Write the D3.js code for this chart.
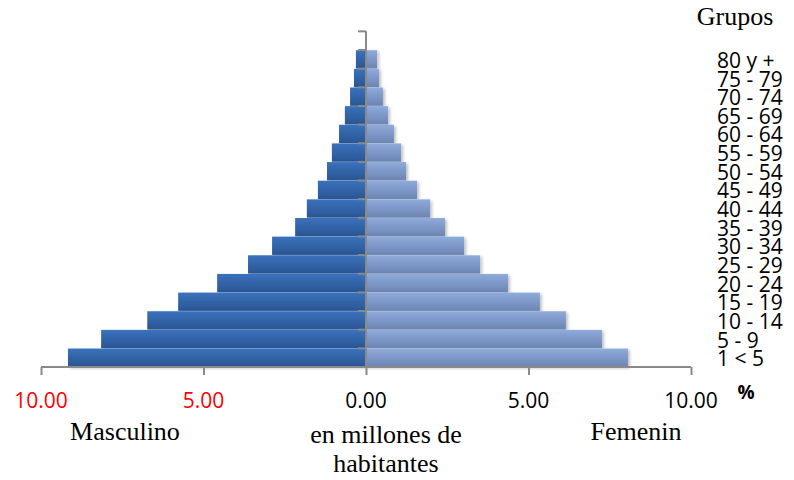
<!DOCTYPE html>
<html><head><meta charset="utf-8">
<script src="https://cdn.jsdelivr.net/npm/d3@7"></script>
<style>
html,body{margin:0;padding:0;background:#fff;}
svg{display:block;}
</style></head>
<body>
<svg id="chart" width="794" height="480"></svg>
<script>
const groups = ["1 < 5","5 - 9","10 - 14","15 - 19","20 - 24","25 - 29","30 - 34","35 - 39","40 - 44","45 - 49","50 - 54","55 - 59","60 - 64","65 - 69","70 - 74","75 - 79","80 y +"];
const masculino = [9.17,8.15,6.73,5.78,4.58,3.63,2.89,2.18,1.82,1.48,1.20,1.05,0.83,0.65,0.49,0.37,0.31];
const femenino  = [8.06,7.26,6.15,5.35,4.37,3.51,3.02,2.43,1.97,1.57,1.23,1.08,0.86,0.68,0.52,0.40,0.34];
const xTicks = [-10,-5,0,5,10];
const xTickLabels = ["10.00","5.00","0.00","5.00","10.00"];

const svg = d3.select("#chart");
const defs = svg.append("defs");
function grad(id, c1, c2){
  const g = defs.append("linearGradient").attr("id",id).attr("x1",0).attr("y1",0).attr("x2",0).attr("y2",1);
  g.append("stop").attr("offset","0%").attr("stop-color",c1);
  g.append("stop").attr("offset","100%").attr("stop-color",c2);
}
grad("gM","#3a72bd","#2a5592");
grad("gF","#8eabdc","#6c84b2");
const f = defs.append("filter").attr("id","sh").attr("x","-5%").attr("y","-20%").attr("width","120%").attr("height","160%");
f.append("feDropShadow").attr("dx",2).attr("dy",1.5).attr("stdDeviation",1.5).attr("flood-color","#000").attr("flood-opacity",0.25);

const x = d3.scaleLinear().domain([-10,10]).range([41,691]);
const yBottom = 367, yTop = 50;
const y = d3.scaleBand().domain(groups).range([yBottom, yTop]).paddingInner(0.02).paddingOuter(0.01);
const step = y.step();

// bars
const gb = svg.append("g").attr("filter","url(#sh)");
gb.selectAll("rect.m").data(groups).join("rect").attr("class","m")
  .attr("x",(d,i)=>x(-masculino[i])).attr("width",(d,i)=>x(0)-x(-masculino[i]))
  .attr("y",d=>y(d)).attr("height",y.bandwidth()).attr("fill","url(#gM)");
gb.selectAll("rect.f").data(groups).join("rect").attr("class","f")
  .attr("x",x(0)).attr("width",(d,i)=>x(femenino[i])-x(0))
  .attr("y",d=>y(d)).attr("height",y.bandwidth()).attr("fill","url(#gF)");

const axisColor = "#8a8a8a";
// horizontal axis
const xa = svg.append("g").attr("transform",`translate(0,${yBottom})`)
  .call(d3.axisBottom(x).tickValues(xTicks).tickSize(8).tickFormat(""));
xa.select(".domain").attr("stroke",axisColor).attr("stroke-width",2).attr("d",`M${x(-10)},0H${x(10)}`);
xa.selectAll(".tick line").attr("stroke",axisColor).attr("stroke-width",2);

// vertical axis (category ticks at band boundaries)
const axTop = yBottom - step*(groups.length+1);
const boundaries = d3.range(groups.length+2).map(i=>yBottom - i*step);
const va = svg.append("g");
va.append("line").attr("x1",x(0)).attr("x2",x(0)).attr("y1",axTop).attr("y2",yBottom)
  .attr("stroke",axisColor).attr("stroke-width",2);
va.selectAll("line.t").data(boundaries.slice(1)).join("line").attr("class","t")
  .attr("x1",x(0)-8).attr("x2",x(0)).attr("y1",d=>d).attr("y2",d=>d)
  .attr("stroke",axisColor).attr("stroke-width",2);

// tick labels
svg.append("g").selectAll("text").data(xTicks).join("text")
  .attr("x",d=>x(d)).attr("y",408).attr("text-anchor","middle")
  .attr("font-family","'Open Sans', sans-serif").attr("font-size",21)
  .attr("fill",d=>d<0?"#ff0000":"#000")
  .text((d,i)=>xTickLabels[i]);

svg.append("text").attr("x",746).attr("y",399).attr("text-anchor","middle")
  .attr("font-family","'Open Sans', sans-serif").attr("font-weight","bold").attr("font-size",19).text("%");

// group labels
svg.append("g").selectAll("text").data(groups).join("text")
  .attr("x",717).attr("y",d=>y(d)+y.bandwidth()/2+1).attr("dy","0.36em")
  .attr("font-family","'Open Sans', sans-serif").attr("font-size",21)
  .text(d=>d);

const serif = "'Liberation Serif','Times New Roman', serif";
svg.append("text").attr("x",735).attr("y",25).attr("text-anchor","middle")
  .attr("font-family",serif).attr("font-size",26).text("Grupos");
svg.append("text").attr("x",125).attr("y",440).attr("text-anchor","middle")
  .attr("font-family",serif).attr("font-size",26).text("Masculino");
svg.append("text").attr("x",386).attr("y",443).attr("text-anchor","middle")
  .attr("font-family",serif).attr("font-size",26).text("en millones de");
svg.append("text").attr("x",386).attr("y",472).attr("text-anchor","middle")
  .attr("font-family",serif).attr("font-size",26).text("habitantes");
svg.append("text").attr("x",636).attr("y",440).attr("text-anchor","middle")
  .attr("font-family",serif).attr("font-size",26).text("Femenin");
</script>
</body></html>
